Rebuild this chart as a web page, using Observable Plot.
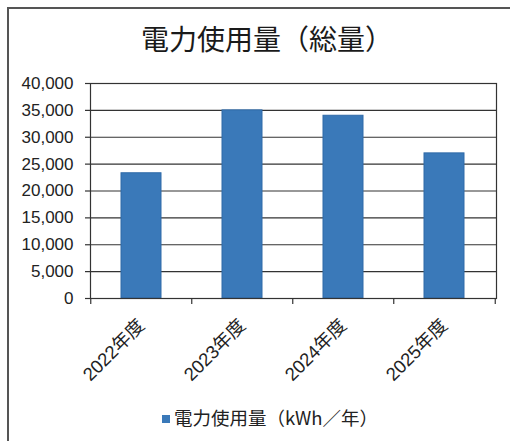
<!DOCTYPE html>
<html><head><meta charset="utf-8">
<script src="https://cdn.jsdelivr.net/npm/d3@7"></script>
<script src="https://cdn.jsdelivr.net/npm/@observablehq/plot@0.6"></script>
<style>
body{margin:0;background:#fff;}
#wrap{position:relative;width:510px;height:441px;overflow:hidden;background:#fff;}
#border{position:absolute;left:7px;top:7px;width:520px;height:460px;border-left:2px solid #555;border-top:2px solid #555;box-sizing:border-box;}
#title{position:absolute;top:19px;left:0;width:534px;text-align:center;font-family:"Noto Sans CJK JP",sans-serif;font-size:28px;font-weight:400;line-height:38px;color:#1a1a1a;}
#chart{position:absolute;top:70px;left:0;}
#chart svg text{font-size:17px !important;font-family:'Liberation Sans','Noto Sans CJK JP',sans-serif !important;fill:#222;}
#chart svg g.xlab text{font-size:18.5px !important;}
#legend{position:absolute;top:404px;left:0;width:540px;text-align:center;font-family:"Noto Sans CJK JP",sans-serif;font-size:18.5px;line-height:26px;color:#222;}
#legend .sw{display:inline-block;width:8px;height:8px;background:#3a79b9;margin-right:4px;vertical-align:middle;position:relative;top:-1px;}
</style>
</head><body>
<div id="wrap">
  <div id="border"></div>
  <div id="title"></div>
  <div id="chart"></div>
  <div id="legend"></div>
</div>
<script>
const titleText = "電力使用量（総量）";
const categories = ["2022年度", "2023年度", "2024年度", "2025年度"];
const values = [23300, 35000, 34000, 27000];
const yTicks = [0, 5000, 10000, 15000, 20000, 25000, 30000, 35000, 40000];
const seriesName = "電力使用量（kWh／年）";

const data = categories.map((c, i) => ({year: c, value: values[i]}));

const W = 510, H = 371, mL = 90, mR = 14, mT = 13, mB = 143;
const halfStep = (W - mL - mR) / categories.length / 2;
const barColor = "#3a79b9";
const lineColor = "#333";
const fontFam = "'Liberation Sans','Noto Sans CJK JP',sans-serif";

document.getElementById("title").textContent = titleText;
const lg = document.getElementById("legend");
const sw = document.createElement("span"); sw.className = "sw"; lg.appendChild(sw);
lg.appendChild(document.createTextNode(seriesName));

const chart = Plot.plot({
  width: W, height: H,
  marginLeft: mL, marginRight: mR, marginTop: mT, marginBottom: mB,
  style: {fontFamily: fontFam, fontSize: "17px", color: "#222", background: "transparent"},
  x: {domain: categories, paddingInner: 0.6, paddingOuter: 0.3, label: null},
  y: {domain: [0, 40000], label: null},
  marks: [
    Plot.ruleY(yTicks, {stroke: lineColor, strokeWidth: 1.2}),
    Plot.barY(data, {x: "year", y: "value", fill: barColor, stroke: "#2f6aa8", strokeWidth: 1}),
    Plot.frame({stroke: lineColor, strokeWidth: 1.2}),
    Plot.ruleX(categories, {x: d => d, dx: -halfStep, y1: 0, y2: 0, insetBottom: -6, stroke: lineColor, strokeWidth: 1.2}),
    Plot.ruleX(categories.slice(-1), {x: d => d, dx: halfStep, y1: 0, y2: 0, insetBottom: -6, stroke: lineColor, strokeWidth: 1.2}),
    Plot.axisY({ticks: yTicks, tickFormat: d3.format(","), tickSize: 5, tickPadding: 12, stroke: lineColor, strokeWidth: 1.2}),
    Plot.axisX({tickSize: 0, tickRotate: -45, tickPadding: 24, dx: 0, label: null})
  ]
});
chart.querySelectorAll("g[aria-label='x-axis tick label']").forEach(g => g.classList.add("xlab"));
document.getElementById("chart").appendChild(chart);
</script>
</body></html>
